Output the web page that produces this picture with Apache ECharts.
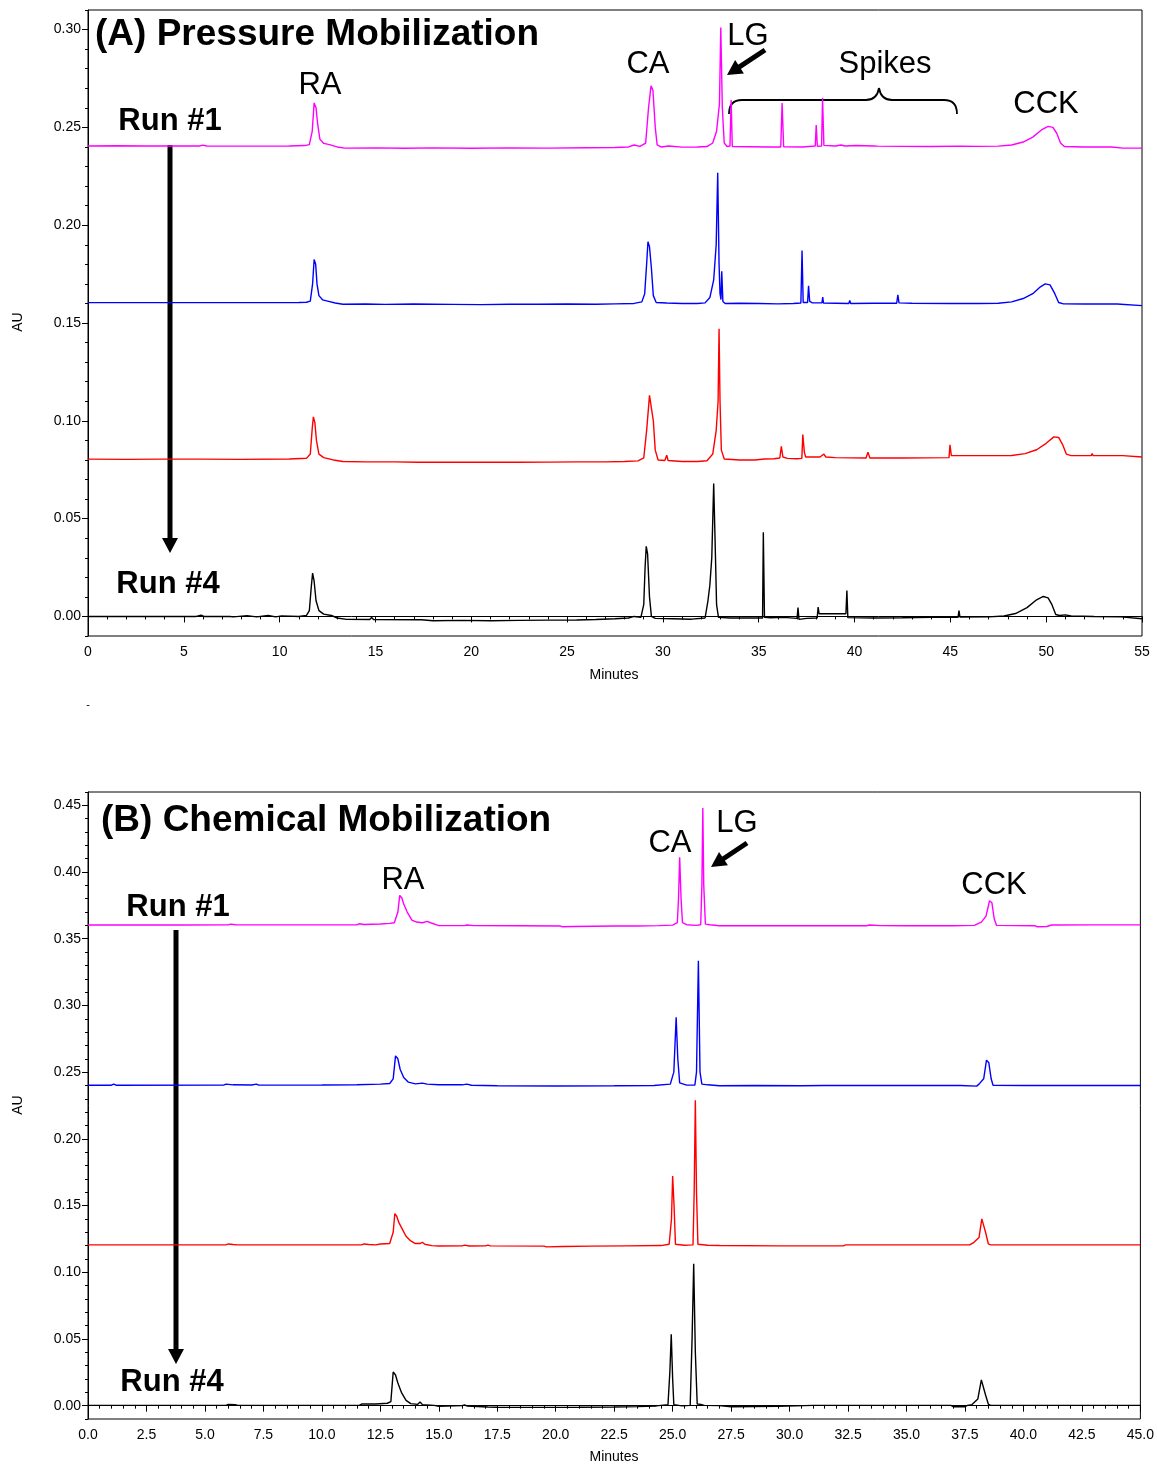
<!DOCTYPE html>
<html lang="en" style="background: #FFFFFF;height: 100%">

<head>
    <meta charset="utf-8" />
    <title>Pressure vs chemical mobilization</title>
    <script type="text/javascript" src="https://cdn.jsdelivr.net/npm/echarts@6/dist/echarts.min.js"></script>
</head>

<body style="margin: 0;height: 100%">
    <div id="chart" style="width:1157px;height:1464px"></div>
    <script>
    // tick values
    let xTicksA = [0, 5, 10, 15, 20, 25, 30, 35, 40, 45, 50, 55]
    let yTicksA = [0, 0.05, 0.10, 0.15, 0.20, 0.25, 0.30]
    let xTicksB = [0, 2.5, 5, 7.5, 10, 12.5, 15, 17.5, 20, 22.5, 25, 27.5, 30, 32.5, 35, 37.5, 40, 42.5, 45]
    let yTicksB = [0, 0.05, 0.10, 0.15, 0.20, 0.25, 0.30, 0.35, 0.40, 0.45]

    let runColors = ['#FF00FF', '#0000FF', '#FF0000', '#000000']

    // (A) pressure mobilization, [minutes, AU]
    let run1A = [
        [0, 0.2405], [1.5, 0.2406], [3, 0.2405], [5.8, 0.2405], [6.0, 0.2409], [6.2, 0.2405], [8.5, 0.2404], [10.5, 0.2405],
        [11.3, 0.2407], [11.55, 0.2412], [11.7, 0.2480], [11.8, 0.2625], [11.9, 0.2600], [11.98, 0.2520], [12.1, 0.2440],
        [12.3, 0.2418], [12.6, 0.2412], [13.0, 0.2400], [13.4, 0.2394], [15, 0.2395], [16.5, 0.2393], [18, 0.2395],
        [20, 0.2393], [22, 0.2395], [24, 0.2394], [26, 0.2396], [27.5, 0.2397], [28.2, 0.2400], [28.5, 0.2410],
        [28.8, 0.2403], [29.1, 0.2420], [29.25, 0.2600], [29.38, 0.2712], [29.48, 0.2690], [29.6, 0.2500], [29.7, 0.2410],
        [29.9, 0.2400], [30.3, 0.2405], [31, 0.2399], [31.8, 0.2400], [32.3, 0.2402], [32.6, 0.2420], [32.8, 0.2480],
        [32.95, 0.2620], [33.02, 0.3010], [33.1, 0.2600], [33.2, 0.2420], [33.35, 0.2402], [33.5, 0.2405], [33.56, 0.2640],
        [33.62, 0.2402], [34.5, 0.2401], [35.5, 0.2400], [36.15, 0.2400], [36.22, 0.2625], [36.3, 0.2401], [37.3, 0.2400],
        [37.95, 0.2405], [38.0, 0.2512], [38.06, 0.2403], [38.28, 0.2405], [38.33, 0.2650], [38.4, 0.2408], [39.0, 0.2405],
        [39.3, 0.2410], [39.5, 0.2405], [40.1, 0.2407], [41.0, 0.2405], [41.1, 0.2411], [41.2, 0.2404], [42.5, 0.2403],
        [44, 0.2402], [45.5, 0.2404], [46.5, 0.2403], [47.5, 0.2404], [48.2, 0.2410], [48.8, 0.2425], [49.3, 0.2450],
        [49.8, 0.2490], [50.1, 0.2505], [50.35, 0.2500], [50.55, 0.2470], [50.75, 0.2420], [50.95, 0.2402], [52, 0.2400],
        [53.4, 0.2400], [53.5, 0.2395], [54, 0.2394], [55, 0.2394]
    ]
    let run2A = [
        [0, 0.1604], [2.5, 0.1604], [5, 0.1604], [5.9, 0.1604], [6.0, 0.1607], [6.1, 0.1604], [9, 0.1604], [11.0, 0.1605],
        [11.4, 0.1606], [11.6, 0.1612], [11.72, 0.1700], [11.8, 0.1825], [11.88, 0.1800], [11.95, 0.1700], [12.05, 0.1640],
        [12.25, 0.1618], [12.5, 0.1612], [12.9, 0.1602], [13.3, 0.1596], [14.5, 0.1597], [15.5, 0.1595], [17, 0.1597],
        [19, 0.1595], [20.5, 0.1594], [22, 0.1596], [23.5, 0.1596], [25, 0.1597], [26.5, 0.1596], [27.5, 0.1598],
        [28.5, 0.1600], [28.9, 0.1608], [29.05, 0.1650], [29.15, 0.1800], [29.22, 0.1915], [29.3, 0.1890], [29.4, 0.1780],
        [29.5, 0.1640], [29.65, 0.1605], [30.2, 0.1602], [31, 0.1600], [31.8, 0.1600], [32.2, 0.1603], [32.45, 0.1630],
        [32.65, 0.1720], [32.78, 0.1900], [32.86, 0.2268], [32.93, 0.1800], [32.98, 0.1650], [33.03, 0.1620], [33.07, 0.1765],
        [33.13, 0.1610], [33.25, 0.1600], [34, 0.1601], [35, 0.1600], [36, 0.1598], [36.8, 0.1600], [37.2, 0.1602],
        [37.26, 0.1870], [37.32, 0.1605], [37.55, 0.1605], [37.6, 0.1690], [37.66, 0.1610], [37.8, 0.1603], [38.3, 0.1603],
        [38.34, 0.1632], [38.38, 0.1602], [39.7, 0.1600], [39.75, 0.1615], [39.8, 0.1600], [41, 0.1601], [42.2, 0.1601],
        [42.26, 0.1644], [42.32, 0.1603], [43, 0.1601], [45, 0.1600], [46.5, 0.1600], [47.5, 0.1601], [48.2, 0.1608],
        [48.8, 0.1625], [49.3, 0.1650], [49.7, 0.1685], [49.95, 0.1700], [50.2, 0.1695], [50.45, 0.1650], [50.65, 0.1605],
        [50.9, 0.1598], [52, 0.1597], [53.7, 0.1597], [53.8, 0.1590], [55, 0.1589]
    ]
    let run3A = [
        [0, 0.0804], [2, 0.0803], [4, 0.0804], [6, 0.0804], [8, 0.0803], [10.5, 0.0805], [11.1, 0.0807], [11.4, 0.0808],
        [11.6, 0.0830], [11.7, 0.0960], [11.76, 0.1020], [11.84, 0.0990], [11.92, 0.0900], [12.05, 0.0830], [12.3, 0.0812],
        [12.8, 0.0800], [13.3, 0.0792], [14.5, 0.0790], [16, 0.0790], [17.2, 0.0788], [17.3, 0.0794], [17.4, 0.0789],
        [19, 0.0788], [21, 0.0789], [22.5, 0.0788], [24, 0.0789], [25.5, 0.0790], [27, 0.0790], [28, 0.0792], [28.7, 0.0795],
        [29.0, 0.0810], [29.15, 0.0950], [29.3, 0.1130], [29.4, 0.1120], [29.5, 0.1000], [29.6, 0.0850], [29.75, 0.0800],
        [30.1, 0.0797], [30.2, 0.0824], [30.27, 0.0797], [31, 0.0792], [31.8, 0.0792], [32.3, 0.0796], [32.6, 0.0830],
        [32.78, 0.0950], [32.88, 0.1100], [32.93, 0.1470], [32.98, 0.1100], [33.05, 0.0850], [33.2, 0.0805], [34, 0.0800],
        [34.8, 0.0800], [35.3, 0.0805], [35.8, 0.0806], [36.1, 0.0810], [36.18, 0.0870], [36.26, 0.0815], [36.5, 0.0808],
        [37.0, 0.0806], [37.25, 0.0808], [37.3, 0.0930], [37.38, 0.0840], [37.45, 0.0815], [38.2, 0.0815], [38.4, 0.0830],
        [38.5, 0.0815], [39, 0.0812], [40.6, 0.0810], [40.7, 0.0840], [40.8, 0.0810], [42.5, 0.0810], [44.93, 0.0812],
        [44.98, 0.0877], [45.05, 0.0822], [46, 0.0822], [47, 0.0822], [48.2, 0.0823], [48.9, 0.0832], [49.5, 0.0852],
        [50.0, 0.0885], [50.4, 0.0918], [50.65, 0.0915], [50.85, 0.0880], [51.05, 0.0830], [51.3, 0.0822], [52.35, 0.0822],
        [52.4, 0.0833], [52.45, 0.0822], [54.0, 0.0822], [54.05, 0.0828], [54.1, 0.0818], [55, 0.0815]
    ]
    let run4A = [
        [0, 0.0000], [3, 0.0000], [5.65, 0.0000], [5.75, 0.0008], [5.9, 0.0006], [6.05, 0.0000], [7.4, 0.0000], [7.5, 0.0005],
        [7.6, -0.0002], [8.3, 0.0004], [8.8, -0.0002], [9.4, 0.0005], [9.8, -0.0002], [10.1, 0.0003], [11.0, 0.0000],
        [11.4, 0.0005], [11.55, 0.0030], [11.65, 0.0150], [11.72, 0.0222], [11.8, 0.0180], [11.9, 0.0080], [12.05, 0.0030],
        [12.3, 0.0012], [12.7, 0.0005], [13.0, -0.0008], [13.5, -0.0015], [14.7, -0.0016], [14.8, -0.0005], [14.9, -0.0016],
        [17.2, -0.0017], [17.3, -0.0008], [17.4, -0.0017], [18, -0.0022], [19.5, -0.0020], [21, -0.0022], [22.5, -0.0020],
        [24, -0.0019], [25.5, -0.0018], [26.5, -0.0016], [27.5, -0.0012], [28.2, -0.0008], [28.5, 0.0000], [28.85, -0.0005],
        [29.0, 0.0060], [29.07, 0.0250], [29.13, 0.0358], [29.2, 0.0320], [29.3, 0.0100], [29.4, 0.0000], [29.6, -0.0010],
        [30.5, -0.0012], [31.5, -0.0014], [32.2, -0.0008], [32.35, 0.0080], [32.45, 0.0160], [32.55, 0.0300], [32.65, 0.0680],
        [32.72, 0.0400], [32.8, 0.0060], [32.9, -0.0005], [33.5, -0.0008], [35.2, -0.0008], [35.24, 0.0430], [35.3, -0.0005],
        [35.6, -0.0007], [36.3, -0.0005], [37.0, -0.0010], [37.05, 0.0045], [37.1, -0.0015], [37.5, -0.0010], [38.05, -0.0008],
        [38.1, 0.0048], [38.15, 0.0014], [39.55, 0.0014], [39.6, 0.0133], [39.65, -0.0006], [41, -0.0008], [42.5, -0.0007],
        [44, -0.0005], [45.4, -0.0005], [45.45, 0.0030], [45.5, -0.0003], [47, -0.0002], [47.8, 0.0002], [48.4, 0.0015],
        [49.0, 0.0045], [49.5, 0.0085], [49.85, 0.0102], [50.1, 0.0095], [50.3, 0.0060], [50.5, 0.0010], [50.7, 0.0005],
        [51.0, 0.0008], [51.3, 0.0002], [52.5, 0.0000], [53.9, -0.0002], [54.0, -0.0012], [55, -0.0012]
    ]

    // (B) chemical mobilization, [minutes, AU]
    let run1B = [
        [0, 0.3603], [2, 0.3603], [4, 0.3603], [6.0, 0.3604], [6.1, 0.3610], [6.3, 0.3605], [8, 0.3604], [10, 0.3604],
        [11.5, 0.3605], [11.6, 0.3612], [11.8, 0.3607], [12.5, 0.3610], [12.9, 0.3615], [13.1, 0.3620], [13.25, 0.3700],
        [13.33, 0.3825], [13.42, 0.3805], [13.5, 0.3760], [13.65, 0.3700], [13.85, 0.3640], [14.05, 0.3625], [14.3, 0.3620],
        [14.5, 0.3630], [14.65, 0.3620], [15, 0.3598], [16.1, 0.3598], [16.2, 0.3603], [16.5, 0.3598], [18.5, 0.3597],
        [20.2, 0.3595], [20.3, 0.3590], [20.7, 0.3592], [22.5, 0.3595], [23.5, 0.3596], [24.4, 0.3598], [25.0, 0.3602],
        [25.2, 0.3620], [25.25, 0.3800], [25.3, 0.4110], [25.36, 0.3800], [25.42, 0.3620], [25.6, 0.3605], [26.0, 0.3600],
        [26.2, 0.3605], [26.25, 0.3900], [26.29, 0.4480], [26.33, 0.3900], [26.4, 0.3610], [26.6, 0.3605], [27, 0.3597],
        [30, 0.3597], [33.3, 0.3597], [33.4, 0.3603], [33.9, 0.3598], [35, 0.3597], [37, 0.3597], [37.9, 0.3600],
        [38.2, 0.3625], [38.4, 0.3670], [38.55, 0.3785], [38.65, 0.3770], [38.75, 0.3650], [38.85, 0.3600], [40.5, 0.3597],
        [40.6, 0.3590], [41.0, 0.3592], [41.2, 0.3603], [43, 0.3604], [45, 0.3604]
    ]
    let run2B = [
        [0, 0.2402], [1.0, 0.2402], [1.1, 0.2410], [1.2, 0.2402], [5.8, 0.2403], [5.9, 0.2410], [6.2, 0.2405], [7, 0.2404],
        [7.2, 0.2410], [7.3, 0.2403], [10, 0.2404], [11.5, 0.2406], [12.5, 0.2410], [12.9, 0.2415], [13.05, 0.2450],
        [13.15, 0.2622], [13.25, 0.2600], [13.35, 0.2520], [13.5, 0.2460], [13.7, 0.2425], [14.0, 0.2412], [14.3, 0.2418],
        [14.5, 0.2410], [15, 0.2405], [16, 0.2405], [16.2, 0.2410], [16.4, 0.2402], [17.5, 0.2398], [20, 0.2396],
        [22.5, 0.2398], [24.2, 0.2400], [24.9, 0.2410], [25.05, 0.2500], [25.15, 0.2912], [25.22, 0.2600], [25.3, 0.2420],
        [25.6, 0.2403], [25.95, 0.2403], [26.02, 0.2500], [26.1, 0.3335], [26.17, 0.2500], [26.25, 0.2410], [26.5, 0.2405],
        [27, 0.2398], [28.5, 0.2400], [30.5, 0.2398], [31.5, 0.2400], [33.5, 0.2400], [36, 0.2400], [37.3, 0.2400],
        [37.35, 0.2395], [38.0, 0.2395], [38.1, 0.2410], [38.3, 0.2450], [38.42, 0.2590], [38.52, 0.2570], [38.62, 0.2450],
        [38.7, 0.2402], [40, 0.2400], [42.5, 0.2400], [45, 0.2400]
    ]
    let run3B = [
        [0, 0.1205], [3, 0.1205], [5.9, 0.1205], [6.0, 0.1212], [6.2, 0.1208], [6.4, 0.1205], [9, 0.1205], [11.7, 0.1205],
        [11.8, 0.1212], [12.0, 0.1208], [12.3, 0.1205], [12.5, 0.1212], [12.9, 0.1215], [13.05, 0.1300], [13.12, 0.1440],
        [13.2, 0.1420], [13.3, 0.1370], [13.45, 0.1320], [13.6, 0.1270], [13.8, 0.1235], [14.0, 0.1215], [14.2, 0.1215],
        [14.3, 0.1225], [14.4, 0.1210], [14.7, 0.1200], [15, 0.1197], [16, 0.1198], [16.1, 0.1203], [16.3, 0.1197],
        [17.0, 0.1198], [17.1, 0.1203], [17.2, 0.1198], [19.5, 0.1196], [19.6, 0.1190], [20.3, 0.1193], [21.5, 0.1196],
        [23, 0.1198], [24.5, 0.1200], [24.85, 0.1210], [24.95, 0.1400], [25.0, 0.1722], [25.06, 0.1500], [25.12, 0.1210],
        [25.5, 0.1202], [25.87, 0.1205], [25.92, 0.1600], [25.97, 0.2290], [26.02, 0.1600], [26.08, 0.1210], [26.5, 0.1202],
        [27, 0.1200], [29.5, 0.1198], [32.3, 0.1198], [32.4, 0.1205], [35, 0.1205], [36.8, 0.1205], [37.7, 0.1205],
        [37.85, 0.1220], [38.1, 0.1260], [38.22, 0.1400], [38.3, 0.1390], [38.38, 0.1300], [38.5, 0.1212], [38.6, 0.1205],
        [40, 0.1205], [42, 0.1205], [45, 0.1205]
    ]
    let run4B = [
        [0, 0.0002], [3, 0.0002], [5.9, 0.0002], [6.0, 0.0010], [6.3, 0.0008], [6.4, 0.0002], [9, 0.0002], [11.6, 0.0002],
        [11.7, 0.0012], [12.3, 0.0012], [12.8, 0.0018], [12.95, 0.0030], [13.05, 0.0252], [13.15, 0.0230], [13.25, 0.0170],
        [13.4, 0.0100], [13.6, 0.0040], [13.8, 0.0015], [14.1, 0.0010], [14.2, 0.0028], [14.3, 0.0008], [14.8, 0.0002],
        [15, -0.0004], [16, 0.0000], [16.1, 0.0006], [16.2, -0.0002], [17.1, -0.0010], [17.5, -0.0012], [19, -0.0013],
        [21, -0.0012], [22.5, -0.0010], [23.5, -0.0007], [24.3, -0.0002], [24.8, 0.0008], [24.88, 0.0250], [24.94, 0.0535],
        [25.0, 0.0200], [25.05, 0.0008], [25.4, -0.0002], [25.75, 0.0002], [25.83, 0.0500], [25.9, 0.1063], [25.97, 0.0400],
        [26.05, 0.0012], [26.2, 0.0010], [26.25, 0.0020], [26.35, 0.0002], [27, 0.0000], [27.5, -0.0008], [29.5, -0.0005],
        [31, 0.0002], [33, 0.0002], [35, 0.0002], [36.9, 0.0002], [37.0, -0.0008], [37.5, -0.0008], [37.6, 0.0002],
        [37.8, 0.0008], [38.05, 0.0050], [38.2, 0.0193], [38.28, 0.0185], [38.38, 0.0080], [38.5, 0.0010], [38.6, 0.0002],
        [40, 0.0002], [42.5, 0.0002], [45, 0.0002]
    ]

    let chart = echarts.init(document.getElementById('chart'))
    let font = 'Liberation Sans, Arial, Helvetica, sans-serif'

    function xAxisOf(grid, max, interval, ticks, digits) {
        return {
            gridIndex: grid, type: 'value', min: 0, max: max, interval: interval,
            axisLine: { show: true, lineStyle: { color: '#000', width: 1 } },
            axisTick: { show: true, length: 6, lineStyle: { color: '#000' } },
            minorTick: { show: true, splitNumber: 5, length: 3, lineStyle: { color: '#000' } },
            axisLabel: {
                margin: 9, fontSize: 14, fontFamily: font, color: '#000',
                customValues: ticks,
                formatter: v => v.toFixed(digits)
            },
            splitLine: { show: false }
        }
    }

    // two y axes per panel: one for the 0.01 minor ticks, one for labelled ticks
    function yAxesOf(grid, max, ticks) {
        return [{
            gridIndex: grid, type: 'value', min: -0.01, max: max, interval: 0.01,
            axisLine: { show: true, lineStyle: { color: '#000', width: 1 } },
            axisTick: { show: true, length: 3, lineStyle: { color: '#000' } },
            axisLabel: { show: false },
            splitLine: { show: false }
        }, {
            gridIndex: grid, type: 'value', position: 'left', min: -0.01, max: max,
            axisLine: { show: false },
            axisTick: { show: true, length: 6, customValues: ticks, lineStyle: { color: '#000' } },
            axisLabel: {
                margin: 7, fontSize: 14, fontFamily: font, color: '#000',
                customValues: ticks,
                formatter: v => v.toFixed(2)
            },
            splitLine: { show: false }
        }]
    }

    function trace(data, color, grid) {
        return {
            type: 'line', data: data, xAxisIndex: grid, yAxisIndex: grid * 2,
            showSymbol: false, symbol: 'none', silent: true, animation: false,
            lineStyle: { color: color, width: 1.4 }
        }
    }

    function label(text, x, y, size, bold, align) {
        return {
            type: 'text', x: x, y: y + 2, silent: true,
            style: {
                text: text, fill: '#000', textAlign: align || 'center', textVerticalAlign: 'middle',
                font: (bold ? 'bold ' : '') + size + 'px ' + font
            }
        }
    }

    function arrow(x1, y1, x2, y2) {
        // shaft from (x1,y1) to the tip (x2,y2), triangle head
        let dx = x2 - x1, dy = y2 - y1
        let len = Math.sqrt(dx * dx + dy * dy)
        let ux = dx / len, uy = dy / len
        let hl = 15, hw = 8
        let bx = x2 - ux * hl, by = y2 - uy * hl
        return [{
            type: 'line', silent: true,
            shape: { x1: x1, y1: y1, x2: bx + ux, y2: by + uy },
            style: { stroke: '#000', lineWidth: 5 }
        }, {
            type: 'polygon', silent: true,
            shape: { points: [[x2, y2], [bx - uy * hw, by + ux * hw], [bx + uy * hw, by - ux * hw]] },
            style: { fill: '#000' }
        }]
    }

    function brace(x1, x2, xm, y, h) {
        let s = { stroke: '#000', lineWidth: 1.8, fill: null }
        let r = 13
        return [
            { type: 'bezierCurve', silent: true, shape: { x1: x1, y1: y + h, x2: x1 + r, y2: y, cpx1: x1, cpy1: y }, style: s },
            { type: 'line', silent: true, shape: { x1: x1 + r, y1: y, x2: xm - r, y2: y }, style: s },
            { type: 'bezierCurve', silent: true, shape: { x1: xm - r, y1: y, x2: xm, y2: y - 12, cpx1: xm - 2, cpy1: y }, style: s },
            { type: 'bezierCurve', silent: true, shape: { x1: xm, y1: y - 12, x2: xm + r, y2: y, cpx1: xm + 2, cpy1: y }, style: s },
            { type: 'line', silent: true, shape: { x1: xm + r, y1: y, x2: x2 - r, y2: y }, style: s },
            { type: 'bezierCurve', silent: true, shape: { x1: x2 - r, y1: y, x2: x2, y2: y + h, cpx1: x2, cpy1: y }, style: s }
        ]
    }

    let graphics = [
        label('(A) Pressure Mobilization', 95, 33, 37, true, 'left'),
        label('RA', 320, 83, 31),
        label('CA', 648, 62, 31),
        label('LG', 748, 34, 31),
        label('Spikes', 885, 62, 31),
        label('CCK', 1046, 102, 31),
        label('Run #1', 170, 119, 31, true),
        label('Run #4', 168, 582, 31, true),
        label('(B) Chemical Mobilization', 101, 819, 37, true, 'left'),
        label('RA', 403, 878, 31),
        label('CA', 670, 841, 31),
        label('LG', 737, 821, 31),
        label('CCK', 994, 883, 31),
        label('Run #1', 178, 905, 31, true),
        label('Run #4', 172, 1380, 31, true),
        label('Minutes', 614, 673, 14),
        label('Minutes', 614, 1455, 14),
        label('-', 88, 703, 11),
        Object.assign(label('AU', 18, 320, 14), { rotation: Math.PI / 2 }),
        Object.assign(label('AU', 18, 1103, 14), { rotation: Math.PI / 2 })
    ]
    graphics = graphics
        .concat(arrow(765, 50, 727, 75))
        .concat(arrow(170, 145, 170, 553))
        .concat(arrow(747, 843, 711, 867))
        .concat(arrow(176, 930, 176, 1364))
        .concat(brace(729, 957, 879, 100, 14))

    let yA = yAxesOf(0, 0.31, yTicksA)
    let yB = yAxesOf(1, 0.46, yTicksB)

    chart.setOption({
        animation: false,
        backgroundColor: '#FFFFFF',
        grid: [
            { left: 88, top: 10, width: 1054, height: 626, show: true, borderColor: '#000', borderWidth: 1, backgroundColor: 'transparent' },
            { left: 88, top: 792, width: 1053, height: 627, show: true, borderColor: '#000', borderWidth: 1, backgroundColor: 'transparent' }
        ],
        xAxis: [xAxisOf(0, 55, 5, xTicksA, 0), xAxisOf(1, 45, 2.5, xTicksB, 1)],
        yAxis: [yA[0], yA[1], yB[0], yB[1]],
        series: [
            trace(run1A, runColors[0], 0), trace(run2A, runColors[1], 0),
            trace(run3A, runColors[2], 0), trace(run4A, runColors[3], 0),
            trace(run1B, runColors[0], 1), trace(run2B, runColors[1], 1),
            trace(run3B, runColors[2], 1), trace(run4B, runColors[3], 1)
        ],
        graphic: graphics
    })
    </script>
</body>

</html>
